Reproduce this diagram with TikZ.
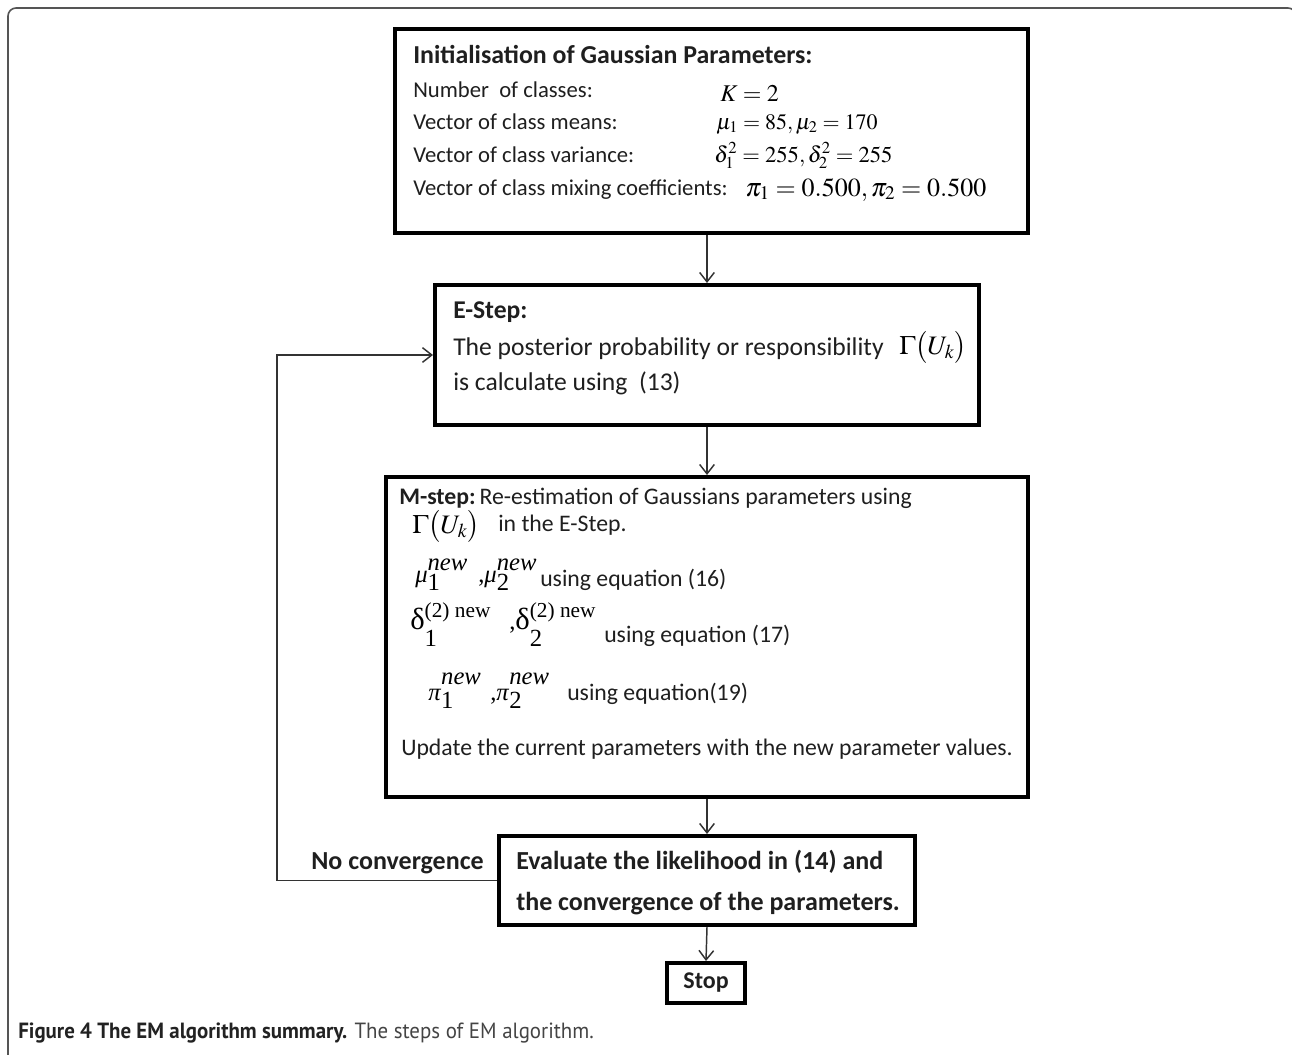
\documentclass[tikz,border=0pt]{standalone}
\usepackage{mathptmx}
\usepackage[no-math]{fontspec}
\setmainfont{Carlito}
\newfontfamily\capfont{PT Sans}[FakeStretch=0.95]
\newfontfamily\tms{Liberation Serif}
\usetikzlibrary{arrows.meta}
\definecolor{linec}{HTML}{333333}
\definecolor{framec}{HTML}{555555}
\definecolor{capdark}{HTML}{222222}
\definecolor{capgray}{HTML}{444444}
\newcommand\ssc[5]{#1\rlap{\raisebox{-#5}{#3}}\raisebox{#4}{#2}}
\newcommand\bigdelta{{\fontsize{23}{24}\selectfont δ}}
\begin{document}
\begin{tikzpicture}[x=0.75pt,y=-0.75pt,
 box/.style={draw=black, line width=3pt, inner sep=0pt, fill=white},
 arr/.style={draw=linec, line width=1.1pt, -{Straight Barb[length=7pt,width=11pt,line width=1.1pt]}},
 tx/.style={anchor=base west, inner sep=0pt, text=black!88, font=\fontsize{17}{20}\selectfont},
 tmx/.style={anchor=base west, inner sep=0pt, text=black!88, font=\fontsize{17.8}{20}\selectfont},
 tm/.style={anchor=base west, inner sep=0pt, font=\fontsize{17}{20}\selectfont},
 te/.style={anchor=base west, inner sep=0pt, text=black!88, font=\fontsize{19.2}{22}\selectfont},
 tsc/.style={anchor=base west, inner sep=0pt, font=\tms\fontsize{18.5}{20}\selectfont},
 tb/.style={inner sep=0pt, text=black!88, font=\fontsize{19.5}{22}\selectfont\bfseries},
]
\useasboundingbox (0,0) rectangle (1292,1054);
\begin{scope}
\clip (0,0) rectangle (1292,1054);
\draw[framec, line width=1.2pt, rounded corners=6pt] (8,1070) -- (8,8) -- (1296,8) -- (1296,1070);
\end{scope}

% boxes
\node[box, minimum width=474.75pt, minimum height=153pt] (init) at (711.5,131) {};
\node[box, minimum width=408pt, minimum height=105pt] (estep) at (707,355) {};
\node[box, minimum width=481.5pt, minimum height=240pt] (mstep) at (707,637) {};
\node[box, minimum width=312pt, minimum height=66.75pt] (eval) at (707,880.5) {};
\node[box, minimum width=58.5pt, minimum height=30pt] (stop) at (706,983) {};

% init box text
\node[tx, font=\fontsize{19.4}{22}\selectfont\bfseries] (i1) at (413,63) {Initialisation of Gaussian Parameters:};
\node[tx] (i2) at (413,97) {Number\ \ of classes:};
\node[tx] (i3) at (413,129) {Vector of class means:};
\node[tx] (i4) at (413,162) {Vector of class variance:};
\node[tx] (i5) at (413,195) {Vector of class mixing coefficients:};
\node[tm, font=\fontsize{18}{20}\selectfont] (m2) at (720,101) {$K=2$};
\node[tm, font=\fontsize{16.5}{20}\selectfont] (m3) at (716,129) {$\mu_1=85,\mu_2=170$};
\node[tm] (m4) at (714,162) {$\delta_1^2=255,\delta_2^2=255$};
\node[tm, font=\fontsize{19.5}{22}\selectfont] (m5) at (745,196) {$\pi_1=0.500,\pi_2=0.500$};

% E-step text
\node[te, font=\fontsize{19.2}{22}\selectfont\bfseries] (e1) at (453,318) {E-Step:};
\node[te] (e2) at (453,355) {The posterior probability or responsibility};
\node[tm, font=\fontsize{20}{22}\selectfont] (e2m) at (899,354) {$\Gamma\bigl(U_{k}\bigr)$};
\node[te] (e3) at (453,390) {is calculate using\ \ (13)};

% M-step text
\node[tmx] (s1) at (399,504) {\textbf{M-step:}\,Re-estimation of Gaussians parameters using};
\node[tm, font=\fontsize{20}{22}\selectfont] (s2m) at (412,533) {$\Gamma\bigl(U_{k}\bigr)$};
\node[tmx] (s2) at (498,531) {in the E-Step.};
\node[tsc] (s3m) at (415,582) {\ssc{\textit{μ}}{\textit{new}}{1}{9pt}{6.5pt}};
\node[tsc] (s3n) at (478,582) {,\ssc{\textit{μ}}{\textit{new}}{2}{9pt}{6.5pt}};
\node[tmx] (s3) at (540,586) {using equation (16)};
\node[tsc] (s4m) at (410,629) {\ssc{\bigdelta}{\fontsize{16}{18}\selectfont(2) new}{1}{9pt}{13pt}};
\node[tsc] (s4n) at (509,629) {,\ssc{\bigdelta}{\fontsize{16}{18}\selectfont(2) new}{2}{9pt}{13pt}};
\node[tmx] (s4) at (604,642) {using equation (17)};
\node[tsc] (s5m) at (428,700) {\ssc{\textit{π}}{\textit{new}}{1}{12pt}{6pt}};
\node[tsc] (s5n) at (490,700) {,\ssc{\textit{π}}{\textit{new}}{2}{12pt}{6pt}};
\node[tmx] (s5) at (567,700) {using equation(19)};
\node[tmx] (s6) at (401,755) {Update the current parameters with the new parameter values.};

% Evaluate text
\node[tb, anchor=base west] (v1) at (516,869) {Evaluate the likelihood in (14) and};
\node[tb, anchor=base west] (v2) at (516,910) {the convergence of the parameters.};
\node[tb, anchor=base east] (nc) at (484,869) {No convergence};
\node[tb, font=\fontsize{18}{20}\selectfont\bfseries] (st) at (stop) {Stop};

% connectors
\draw[arr] (init.south -| estep.north) -- (estep.north);
\draw[arr] (estep.south) -- (mstep.north);
\draw[arr] (mstep.south) -- (eval.north);
\draw[arr] (eval.south) -- (stop.north);
\coordinate (lp) at (277,355);
\draw[arr] (eval.west) -| (lp) -- (estep.west);

% caption
\node[anchor=base west, inner sep=0pt, text=capgray, font=\capfont\fontsize{16.5}{19}\selectfont] (cap) at (18,1038)
  {\textcolor{capdark}{\textbf{Figure 4 The EM algorithm summary.}} The steps of EM algorithm.};
\end{tikzpicture}
\end{document}
